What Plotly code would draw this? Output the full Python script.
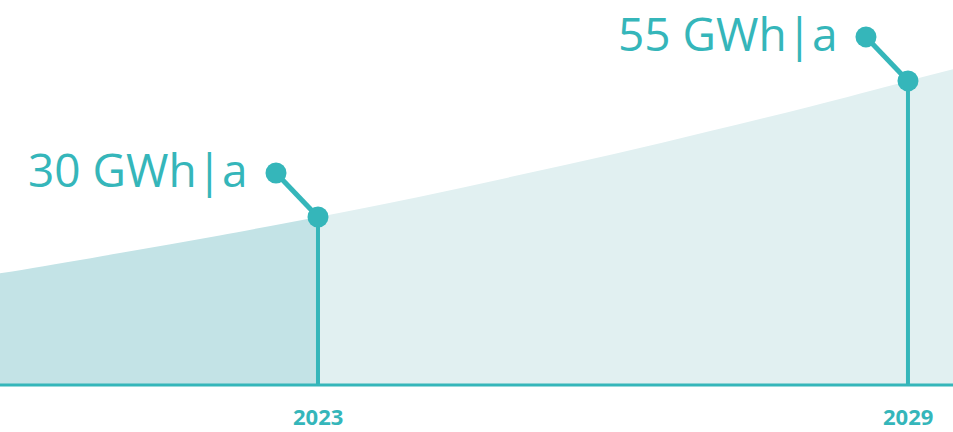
import plotly.graph_objects as go

# ---- data ----
curve_years = [2019.5, 2020, 2021, 2022, 2023, 2024, 2025, 2026, 2027, 2028, 2029, 2029.6]
curve_vals = [19.3, 20.6, 23.6, 26.7, 30.0, 33.5, 37.3, 41.2, 45.4, 49.7, 54.3, 57.0]
mark_years = [2023, 2029]
mark_vals = [30.0, 54.3]
label_texts = ["30 GWh|a", "55 GWh|a"]
year_labels = ["2023", "2029"]

TEAL = "#35B6BA"
DARK = "#C3E3E6"
LIGHT = "#E1F0F1"

W, H = 953, 432
x_range = [2019.766, 2029.458]
y_range = [-8.393, 68.75]
px_x = W / (x_range[1] - x_range[0])
px_y = H / (y_range[1] - y_range[0])

# callout offset in pixels
dx_px, dy_px = -42, 44
dx = dx_px / px_x
dy = dy_px / px_y

split = mark_years[0]
left_x = [x for x in curve_years if x <= split]
left_y = [v for x, v in zip(curve_years, curve_vals) if x <= split]
right_x = [x for x in curve_years if x >= split]
right_y = [v for x, v in zip(curve_years, curve_vals) if x >= split]

fig = go.Figure()
fig.add_trace(go.Scatter(x=right_x, y=right_y, mode="lines", line=dict(width=0, shape="spline"),
                         fill="tozeroy", fillcolor=LIGHT, hoverinfo="skip"))
fig.add_trace(go.Scatter(x=left_x, y=left_y, mode="lines", line=dict(width=0, shape="spline"),
                         fill="tozeroy", fillcolor=DARK, hoverinfo="skip"))

# baseline
fig.add_shape(type="line", xref="paper", x0=0, x1=1, yref="y", y0=0, y1=0,
              line=dict(color=TEAL, width=3))

for yr, v, txt, ylab in zip(mark_years, mark_vals, label_texts, year_labels):
    # vertical stem
    fig.add_trace(go.Scatter(x=[yr, yr], y=[0, v], mode="lines",
                             line=dict(color=TEAL, width=4), hoverinfo="skip"))
    # connector
    cx, cy = yr + dx, v + dy
    fig.add_trace(go.Scatter(x=[yr, cx], y=[v, cy], mode="lines+markers",
                             line=dict(color=TEAL, width=5),
                             marker=dict(size=21, color=TEAL), hoverinfo="skip"))
    fig.add_annotation(x=cx, y=cy, text=txt, showarrow=False, xanchor="right", yanchor="middle",
                       xshift=-26, yshift=4,
                       font=dict(family="Open Sans", size=46, color=TEAL, weight=500))
    fig.add_annotation(x=yr, y=0, text=f"<b>{ylab}</b>", showarrow=False, xanchor="center",
                       yanchor="middle", yshift=-31,
                       font=dict(family="Open Sans", size=22, color=TEAL))

fig.update_layout(
    width=W, height=H, margin=dict(l=0, r=0, t=0, b=0),
    paper_bgcolor="white", plot_bgcolor="white", showlegend=False,
    xaxis=dict(range=x_range, visible=False, fixedrange=True),
    yaxis=dict(range=y_range, visible=False, fixedrange=True),
)
fig.write_html("out.html")
